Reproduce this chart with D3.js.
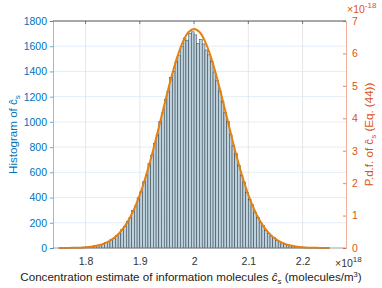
<!DOCTYPE html>
<html>
<head>
<meta charset="utf-8">
<script src="https://cdn.jsdelivr.net/npm/d3@7"></script>
<style>
  body { margin: 0; background: #fff; }
  svg { font-family: "Liberation Sans", Arial, sans-serif; }
</style>
</head>
<body>
<svg id="chart"></svg>
<script>
// histogram bins (lower edge, units of 1e18 molecules/m^3), width 0.005
const binLo = [
  1.755, 1.760, 1.765, 1.770, 1.775, 1.780, 1.785, 1.790, 1.795, 1.800,
  1.805, 1.810, 1.815, 1.820, 1.825, 1.830, 1.835, 1.840, 1.845, 1.850,
  1.855, 1.860, 1.865, 1.870, 1.875, 1.880, 1.885, 1.890, 1.895, 1.900,
  1.905, 1.910, 1.915, 1.920, 1.925, 1.930, 1.935, 1.940, 1.945, 1.950,
  1.955, 1.960, 1.965, 1.970, 1.975, 1.980, 1.985, 1.990, 1.995, 2.000,
  2.005, 2.010, 2.015, 2.020, 2.025, 2.030, 2.035, 2.040, 2.045, 2.050,
  2.055, 2.060, 2.065, 2.070, 2.075, 2.080, 2.085, 2.090, 2.095, 2.100,
  2.105, 2.110, 2.115, 2.120, 2.125, 2.130, 2.135, 2.140, 2.145, 2.150,
  2.155, 2.160, 2.165, 2.170, 2.175, 2.180, 2.185, 2.190, 2.195, 2.200,
  2.205, 2.210, 2.215, 2.220, 2.225, 2.230, 2.235, 2.240, 2.245, 2.250
];
const binWidth = 0.005;
const binCount = [
  0, 0, 1, 0, 2, 1, 3, 5, 4, 8,
  10, 12, 17, 19, 28, 31, 44, 50, 68, 77,
  101, 116, 149, 171, 212, 241, 296, 333, 398, 446,
  525, 580, 671, 732, 830, 898, 1004, 1071, 1180, 1242,
  1352, 1401, 1478, 1530, 1598, 1665, 1648, 1702, 1714, 1690,
  1622, 1655, 1618, 1570, 1532, 1478, 1396, 1330, 1245, 1161,
  1076, 1002, 898, 815, 748, 655, 578, 524, 441, 385,
  342, 282, 243, 201, 178, 141, 118, 95, 82, 62,
  51, 43, 30, 27, 19, 15, 13, 8, 7, 6,
  3, 3, 2, 1, 1, 1, 0, 0, 0, 0
];

// p.d.f. curve (Eq. (44)), values in units of 1e-18
const pdfX = [
  1.75, 1.76, 1.77, 1.78, 1.79, 1.80, 1.81, 1.82, 1.83, 1.84,
  1.85, 1.86, 1.87, 1.88, 1.89, 1.90, 1.91, 1.92, 1.93, 1.94,
  1.95, 1.96, 1.97, 1.98, 1.99, 2.00, 2.01, 2.02, 2.03, 2.04,
  2.05, 2.06, 2.07, 2.08, 2.09, 2.10, 2.11, 2.12, 2.13, 2.14,
  2.15, 2.16, 2.17, 2.18, 2.19, 2.20, 2.21, 2.22, 2.23, 2.24, 2.25
];
const pdfY = [
  0.00, 0.00, 0.00, 0.01, 0.01, 0.02, 0.04, 0.07, 0.11, 0.18,
  0.28, 0.42, 0.62, 0.88, 1.22, 1.64, 2.15, 2.73, 3.38, 4.06,
  4.74, 5.38, 5.94, 6.38, 6.66, 6.75, 6.66, 6.38, 5.94, 5.38,
  4.74, 4.06, 3.38, 2.73, 2.15, 1.64, 1.22, 0.88, 0.62, 0.42,
  0.28, 0.18, 0.11, 0.07, 0.04, 0.02, 0.01, 0.01, 0.00, 0.00, 0.00
];

const xTicks = [1.8, 1.9, 2.0, 2.1, 2.2];
const xTickLabels = ['1.8', '1.9', '2', '2.1', '2.2'];
const yLeftTicks = [0, 200, 400, 600, 800, 1000, 1200, 1400, 1600, 1800];
const yRightTicks = [0, 1, 2, 3, 4, 5, 6, 7];

const blue = '#0072bd';
const red = '#d95319';

class HistPdf {
  constructor(_config) {
    this.config = {
      parentElement: _config.parentElement,
      containerWidth: _config.containerWidth || 382,
      containerHeight: _config.containerHeight || 288,
      margin: _config.margin || {top: 21, right: 36, bottom: 40, left: 53}
    };
    this.initVis();
  }

  initVis() {
    let vis = this;
    vis.width = vis.config.containerWidth - vis.config.margin.left - vis.config.margin.right;
    vis.height = vis.config.containerHeight - vis.config.margin.top - vis.config.margin.bottom;

    vis.xScale = d3.scaleLinear().domain([1.74, 2.28]).range([0, vis.width]);
    vis.yScale = d3.scaleLinear().domain([0, 1800]).range([vis.height, 0]);
    vis.y2Scale = d3.scaleLinear().domain([0, 7]).range([vis.height, 0]);

    vis.svg = d3.select(vis.config.parentElement)
      .attr('width', vis.config.containerWidth)
      .attr('height', vis.config.containerHeight);

    vis.chart = vis.svg.append('g')
      .attr('transform', `translate(${vis.config.margin.left}, ${vis.config.margin.top})`);

    vis.updateVis();
  }

  updateVis() {
    let vis = this;

    // grid
    vis.chart.append('g').selectAll('line')
      .data(yLeftTicks.slice(1))
      .join('line')
        .attr('x1', 0).attr('x2', vis.width)
        .attr('y1', d => vis.yScale(d)).attr('y2', d => vis.yScale(d))
        .attr('stroke', '#dce9f4').attr('stroke-width', 0.8);
    vis.chart.append('g').selectAll('line')
      .data(xTicks)
      .join('line')
        .attr('x1', d => vis.xScale(d)).attr('x2', d => vis.xScale(d))
        .attr('y1', 0).attr('y2', vis.height)
        .attr('stroke', '#e2e2e2').attr('stroke-width', 0.8);

    // histogram bars
    vis.chart.append('g').selectAll('rect')
      .data(binLo.map((d, i) => ({x0: d, x1: d + binWidth, n: binCount[i]})).filter(d => d.n > 0))
      .join('rect')
        .attr('x', d => vis.xScale(d.x0))
        .attr('width', d => vis.xScale(d.x1) - vis.xScale(d.x0))
        .attr('y', d => vis.yScale(d.n))
        .attr('height', d => vis.yScale(0) - vis.yScale(d.n))
        .attr('fill', '#bcd2de')
        .attr('stroke', '#2c3a45')
        .attr('stroke-width', 0.5);

    // pdf curve
    const line = d3.line()
      .x((d, i) => vis.xScale(pdfX[i]))
      .y(d => vis.y2Scale(d))
      .curve(d3.curveCatmullRom);
    vis.chart.append('path')
      .datum(pdfY)
      .attr('d', line)
      .attr('fill', 'none')
      .attr('stroke', '#e6800f')
      .attr('stroke-width', 2);

    // box: top and bottom
    vis.chart.append('line')
      .attr('x1', 0).attr('x2', vis.width).attr('y1', 0).attr('y2', 0)
      .attr('stroke', '#5a5a5a').attr('stroke-width', 1);
    vis.chart.append('line')
      .attr('x1', 0).attr('x2', vis.width).attr('y1', vis.height).attr('y2', vis.height)
      .attr('stroke', '#8a8a8a').attr('stroke-width', 0.8);

    // x axis
    const xAxis = d3.axisBottom(vis.xScale)
      .tickValues(xTicks)
      .tickFormat((d, i) => xTickLabels[i])
      .tickSize(0)
      .tickPadding(10);
    const xAxisG = vis.chart.append('g')
      .attr('transform', `translate(0, ${vis.height})`)
      .call(xAxis);
    xAxisG.select('.domain').remove();
    xAxisG.selectAll('text').attr('fill', '#333').attr('font-size', 10.5);

    // top tick marks
    vis.chart.append('g').selectAll('line')
      .data(xTicks)
      .join('line')
        .attr('x1', d => vis.xScale(d)).attr('x2', d => vis.xScale(d))
        .attr('y1', 0).attr('y2', 3)
        .attr('stroke', '#5a5a5a').attr('stroke-width', 0.8);

    // left axis
    const yAxis = d3.axisLeft(vis.yScale)
      .tickValues(yLeftTicks)
      .tickFormat(d3.format('d'))
      .tickSize(3)
      .tickPadding(3);
    const yAxisG = vis.chart.append('g').call(yAxis);
    yAxisG.select('.domain').attr('stroke', blue).attr('stroke-opacity', 0.45).attr('stroke-width', 1);
    yAxisG.selectAll('.tick line').attr('stroke', blue).attr('stroke-opacity', 0.6);
    yAxisG.selectAll('text').attr('fill', blue).attr('font-size', 10.5);

    // right axis
    const y2Axis = d3.axisRight(vis.y2Scale)
      .tickValues(yRightTicks)
      .tickFormat(d3.format('d'))
      .tickSize(-3)
      .tickPadding(6);
    const y2AxisG = vis.chart.append('g')
      .attr('transform', `translate(${vis.width}, 0)`)
      .call(y2Axis);
    y2AxisG.select('.domain').attr('stroke', red).attr('stroke-opacity', 0.45).attr('stroke-width', 1);
    y2AxisG.selectAll('.tick line').attr('stroke', red).attr('stroke-opacity', 0.7);
    y2AxisG.selectAll('text').attr('fill', red).attr('font-size', 10.5);

    // exponent labels
    const topExp = vis.svg.append('text')
      .attr('x', vis.config.margin.left + vis.width + 1)
      .attr('y', 13)
      .attr('fill', red)
      .attr('font-size', 10.5);
    topExp.append('tspan').text('×10');
    topExp.append('tspan').attr('font-size', 8).attr('dy', -5).text('-18');

    const botExp = vis.svg.append('text')
      .attr('x', 335)
      .attr('y', 267)
      .attr('fill', '#333')
      .attr('font-size', 10.5);
    botExp.append('tspan').text('×10');
    botExp.append('tspan').attr('font-size', 8).attr('dy', -5).text('18');

    // x label
    const xl = vis.svg.append('text')
      .attr('x', 191)
      .attr('y', 281)
      .attr('text-anchor', 'middle')
      .attr('fill', '#222')
      .attr('font-size', 11.6);
    xl.append('tspan').text('Concentration estimate of information molecules  ');
    xl.append('tspan').attr('font-style', 'italic').text('ĉ');
    xl.append('tspan').attr('font-style', 'italic').attr('font-size', 8).attr('dy', 3).text('s');
    xl.append('tspan').attr('dy', -3).text(' (molecules/m');
    xl.append('tspan').attr('font-size', 7.5).attr('dy', -4).text('3');
    xl.append('tspan').attr('dy', 4).text(')');

    // left y label
    const yl = vis.svg.append('text')
      .attr('transform', `translate(17, ${vis.config.margin.top + vis.height / 2}) rotate(-90)`)
      .attr('text-anchor', 'middle')
      .attr('fill', blue)
      .attr('font-size', 11.6);
    yl.append('tspan').text('Histogram of ');
    yl.append('tspan').text('ĉ');
    yl.append('tspan').attr('font-size', 8).attr('dy', 3).text('s');

    // right y label
    const yr = vis.svg.append('text')
      .attr('transform', `translate(373, ${vis.config.margin.top + vis.height / 2}) rotate(-90)`)
      .attr('text-anchor', 'middle')
      .attr('fill', red)
      .attr('font-size', 11.6);
    yr.append('tspan').text('P.d.f. of ');
    yr.append('tspan').text('ĉ');
    yr.append('tspan').attr('font-size', 8).attr('dy', 3).text('s');
    yr.append('tspan').attr('dy', -3).text('  (Eq. (44))');
  }
}

new HistPdf({parentElement: '#chart'});
</script>
</body>
</html>
